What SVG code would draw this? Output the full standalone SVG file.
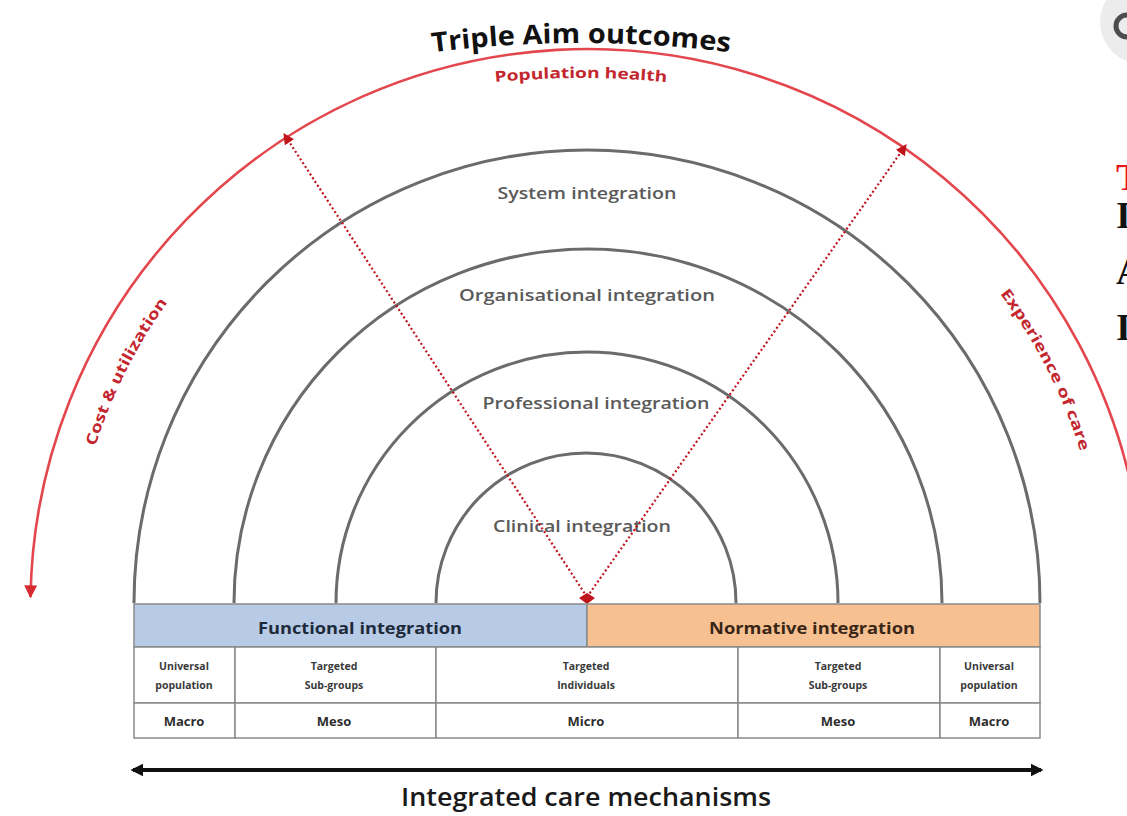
<svg xmlns="http://www.w3.org/2000/svg" xmlns:xlink="http://www.w3.org/1999/xlink" width="1127" height="816" viewBox="0 0 1127 816">
<style>
.ring{fill:none;stroke:#6b6b6b;stroke-width:3}
.ringlbl{font-family:"Open Sans","Liberation Sans",sans-serif;font-size:17px;font-weight:600;fill:#5a5a5a;text-anchor:middle}
.redlbl{font-family:"Open Sans","Liberation Sans",sans-serif;font-size:15px;font-weight:700;fill:#c3262e}
.cell{fill:#ffffff;stroke:#8a8a8a;stroke-width:1.5}
.small{font-family:"Open Sans","Liberation Sans",sans-serif;font-size:10.5px;font-weight:700;fill:#3a3a3a;text-anchor:middle}
.lvl{font-family:"Open Sans","Liberation Sans",sans-serif;font-size:13px;font-weight:700;fill:#2e2e2e;text-anchor:middle}
.band{font-family:"Open Sans","Liberation Sans",sans-serif;font-size:16px;font-weight:700;text-anchor:middle}
.dot{stroke:#c0141c;stroke-width:2.2;stroke-dasharray:2 2.5;fill:none}
.edge{font-family:"Liberation Serif",serif;font-size:38px;font-weight:700}
</style>
<defs>
<path id="pTitle" d="M 170.6 115.4 A 1200 1200 0 0 1 991.4 115.4"/>
<path id="pPop" d="M 273.2 132.3 A 900 900 0 0 1 888.8 132.3"/>
<path id="pSide" d="M 71 603 A 516 516 0 0 1 1103 603"/>
<marker id="redHead" viewBox="0 0 10 10" refX="9" refY="5" markerWidth="5" markerHeight="5" orient="auto-start-reverse" markerUnits="strokeWidth">
<path d="M0 0 L10 5 L0 10 z" fill="#d42a30"/>
</marker>
<marker id="dotHead" viewBox="0 0 10 10" refX="9" refY="5" markerWidth="5" markerHeight="5" orient="auto" markerUnits="strokeWidth">
<path d="M0 0 L10 5 L0 10 z" fill="#c0141c"/>
</marker>
<marker id="blkHead" viewBox="0 0 10 10" refX="8" refY="5" markerWidth="3.2" markerHeight="3.2" orient="auto-start-reverse" markerUnits="strokeWidth">
<path d="M0 0 L10 5 L0 10 z" fill="#111"/>
</marker>
</defs>

<g id="page-edge">
<circle cx="1142" cy="22" r="42" fill="#ececec"/>
<circle cx="1127" cy="26" r="11" fill="none" stroke="#4d4d4d" stroke-width="5"/>
<text class="edge" x="1116" y="190" fill="#e8141c">T</text>
<text class="edge" x="1116" y="228" fill="#111">I</text>
<text class="edge" x="1116" y="284" fill="#111">A</text>
<text class="edge" x="1116" y="340" fill="#111">I</text>
</g>

<g id="triple-aim">
<path d="M 30.5 597 A 557 557 0 0 1 1140 536" fill="none" stroke="#e3474d" stroke-width="2.6" marker-start="url(#redHead)"/>
<text font-family="Open Sans,Liberation Sans,sans-serif" font-size="27" font-weight="700" fill="#111" text-anchor="middle"><textPath xlink:href="#pTitle" href="#pTitle" startOffset="419" textLength="298" lengthAdjust="spacingAndGlyphs">Triple Aim outcomes</textPath></text>
<text class="redlbl" font-size="16" text-anchor="middle"><textPath xlink:href="#pPop" href="#pPop" startOffset="314" textLength="172" lengthAdjust="spacingAndGlyphs">Population health</textPath></text>
<text class="redlbl" text-anchor="middle"><textPath xlink:href="#pSide" href="#pSide" startOffset="240" textLength="162" lengthAdjust="spacingAndGlyphs">Cost &amp; utilization</textPath></text>
<text class="redlbl" text-anchor="middle"><textPath xlink:href="#pSide" href="#pSide" startOffset="1378" textLength="178" lengthAdjust="spacingAndGlyphs">Experience of care</textPath></text>
</g>

<g id="ring-system">
<path class="ring" d="M 134 603 A 453 453 0 0 1 1040 603"/>
<text class="ringlbl" x="587" y="199" textLength="179" lengthAdjust="spacingAndGlyphs">System integration</text>
</g>
<g id="ring-organisational">
<path class="ring" d="M 234 603 A 354 354 0 0 1 942 603"/>
<text class="ringlbl" x="587" y="301" textLength="256" lengthAdjust="spacingAndGlyphs">Organisational integration</text>
</g>
<g id="ring-professional">
<path class="ring" d="M 336 603 A 251 251 0 0 1 838 603"/>
<text class="ringlbl" x="596" y="409" textLength="227" lengthAdjust="spacingAndGlyphs">Professional integration</text>
</g>
<g id="ring-clinical">
<path class="ring" d="M 436 603 A 150 150 0 0 1 736 603"/>
<text class="ringlbl" x="582" y="532" textLength="178" lengthAdjust="spacingAndGlyphs">Clinical integration</text>
</g>

<g id="connectors">
<line class="dot" x1="587" y1="597" x2="284" y2="134" marker-end="url(#dotHead)"/>
<line class="dot" x1="587" y1="597" x2="906" y2="145" marker-end="url(#dotHead)"/>
<polygon points="579,598 587,593 595,598 587,604" fill="#c0141c"/>
<line x1="133" y1="770" x2="1041" y2="770" stroke="#111" stroke-width="4" marker-start="url(#blkHead)" marker-end="url(#blkHead)"/>
</g>

<g id="functional-integration">
<rect x="134" y="604" width="453" height="43" fill="#b8cbe6" stroke="#8a8a8a" stroke-width="1.5"/>
<text class="band" x="360" y="634" fill="#1e2a3a" textLength="204" lengthAdjust="spacingAndGlyphs">Functional integration</text>
</g>
<g id="normative-integration">
<rect x="587" y="604" width="453" height="43" fill="#f7c091" stroke="#8a8a8a" stroke-width="1.5"/>
<text class="band" x="812" y="634" fill="#3a2616" textLength="206" lengthAdjust="spacingAndGlyphs">Normative integration</text>
</g>

<g id="table">
<rect class="cell" x="134" y="647" width="101" height="56"/>
<rect class="cell" x="235" y="647" width="201" height="56"/>
<rect class="cell" x="436" y="647" width="302" height="56"/>
<rect class="cell" x="738" y="647" width="202" height="56"/>
<rect class="cell" x="940" y="647" width="100" height="56"/>
<rect class="cell" x="134" y="703" width="101" height="35"/>
<rect class="cell" x="235" y="703" width="201" height="35"/>
<rect class="cell" x="436" y="703" width="302" height="35"/>
<rect class="cell" x="738" y="703" width="202" height="35"/>
<rect class="cell" x="940" y="703" width="100" height="35"/>
<text class="small" x="184" y="670">Universal</text>
<text class="small" x="184" y="689">population</text>
<text class="small" x="334" y="670">Targeted</text>
<text class="small" x="334" y="689">Sub-groups</text>
<text class="small" x="586" y="670">Targeted</text>
<text class="small" x="586" y="689">Individuals</text>
<text class="small" x="838" y="670">Targeted</text>
<text class="small" x="838" y="689">Sub-groups</text>
<text class="small" x="989" y="670">Universal</text>
<text class="small" x="989" y="689">population</text>
<text class="lvl" x="184" y="726">Macro</text>
<text class="lvl" x="334" y="726">Meso</text>
<text class="lvl" x="586" y="726">Micro</text>
<text class="lvl" x="838" y="726">Meso</text>
<text class="lvl" x="989" y="726">Macro</text>
</g>

<g id="mechanisms-label">
<text x="586" y="806" font-family="Open Sans,Liberation Sans,sans-serif" font-size="26" font-weight="600" fill="#1a1a1a" text-anchor="middle" textLength="370" lengthAdjust="spacingAndGlyphs">Integrated care mechanisms</text>
</g>
</svg>
